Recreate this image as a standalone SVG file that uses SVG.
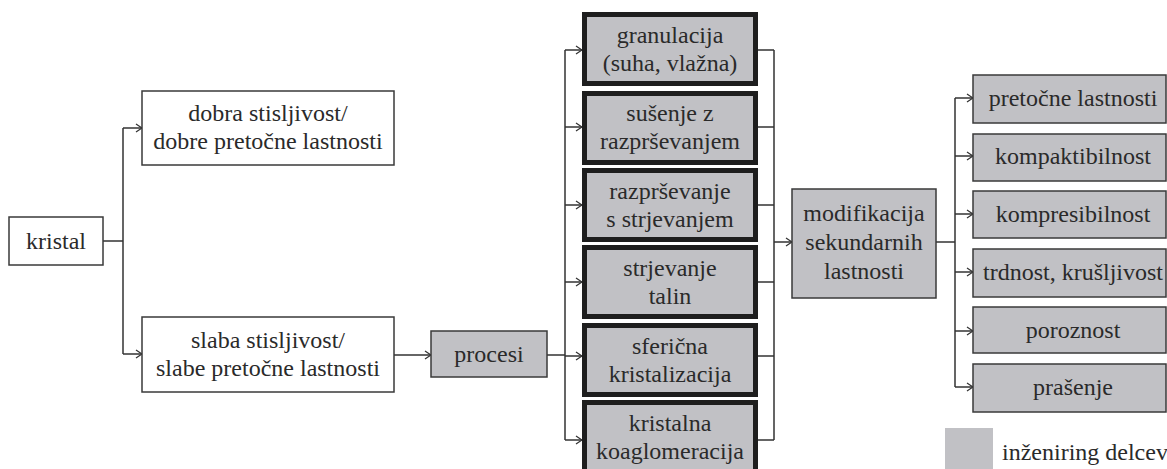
<svg xmlns="http://www.w3.org/2000/svg" width="1167" height="469" viewBox="0 0 1167 469" font-family="'Liberation Serif', 'DejaVu Serif', serif">
<style>
text{font-family:'Liberation Serif','DejaVu Serif',serif;font-size:24px;fill:#2a2a2a;text-anchor:middle}
.w{fill:#ffffff;stroke:#3a3a3a;stroke-width:1.5}
.g{fill:#c1c1c5;stroke:#3a3a3a;stroke-width:1.5}
.t{fill:#c1c1c5;stroke:#1e1e1e;stroke-width:5}
.c{fill:none;stroke:#333333;stroke-width:1.5}
.a{marker-end:url(#arr)}
</style>
<defs>
<marker id="arr" viewBox="0 0 10 10" refX="9" refY="5" markerWidth="10" markerHeight="10" markerUnits="userSpaceOnUse" orient="auto">
<path d="M3,1 L9,5 L3,9" fill="none" stroke="#333333" stroke-width="1.3"/>
</marker>
</defs>
<rect width="1167" height="469" fill="#ffffff"/>
<g id="connectors">
<path class="c" d="M103,241 H123 M123,128 V354 M565,50 V440 M547,355 H565 M758,50 H774 M758,127 H774 M758,205 H774 M758,282 H774 M758,356 H774 M758,440 H774 M774,50 V440 M936,242 H955 M955,98 V387"/>
<path class="c a" d="M123,128 H142"/>
<path class="c a" d="M123,354 H142"/>
<path class="c a" d="M394,355 H431"/>
<path class="c a" d="M565,50 H582"/>
<path class="c a" d="M565,127 H582"/>
<path class="c a" d="M565,205 H582"/>
<path class="c a" d="M565,282 H582"/>
<path class="c a" d="M565,356 H582"/>
<path class="c a" d="M565,440 H582"/>
<path class="c a" d="M774,242 H792"/>
<path class="c a" d="M955,98 H973"/>
<path class="c a" d="M955,156 H973"/>
<path class="c a" d="M955,214 H973"/>
<path class="c a" d="M955,272 H973"/>
<path class="c a" d="M955,331 H973"/>
<path class="c a" d="M955,387 H973"/>
</g>
<g id="kristal"><rect class="w" x="9" y="217" width="94" height="48"/><text x="56" y="249">kristal</text></g>
<g id="dobra"><rect class="w" x="142" y="91" width="252" height="74"/><text x="268" y="121">dobra stisljivost/</text><text x="268" y="149">dobre pretočne lastnosti</text></g>
<g id="slaba"><rect class="w" x="142" y="317" width="252" height="75"/><text x="268" y="348">slaba stisljivost/</text><text x="268" y="376">slabe pretočne lastnosti</text></g>
<g id="procesi"><rect class="g" x="431" y="331" width="116" height="46"/><text x="489" y="362">procesi</text></g>
<g id="granulacija"><rect class="t" x="584.5" y="14.5" width="171" height="69"/><text x="670" y="43">granulacija</text><text x="670" y="71">(suha, vlažna)</text></g>
<g id="susenje"><rect class="t" x="584.5" y="93.5" width="171" height="69"/><text x="670" y="121">sušenje z</text><text x="670" y="149">razprševanjem</text></g>
<g id="razprsevanje"><rect class="t" x="584.5" y="170.5" width="171" height="69"/><text x="670" y="199">razprševanje</text><text x="670" y="227">s strjevanjem</text></g>
<g id="strjevanje"><rect class="t" x="584.5" y="247.5" width="171" height="69"/><text x="670" y="276">strjevanje</text><text x="670" y="304">talin</text></g>
<g id="sfericna"><rect class="t" x="584.5" y="325.5" width="171" height="69"/><text x="670" y="354">sferična</text><text x="670" y="382">kristalizacija</text></g>
<g id="kristalna"><rect class="t" x="584.5" y="402.5" width="171" height="69"/><text x="670" y="431">kristalna</text><text x="670" y="459">koaglomeracija</text></g>
<g id="modifikacija"><rect class="g" x="792" y="189" width="144" height="109"/><text x="864" y="221">modifikacija</text><text x="864" y="250">sekundarnih</text><text x="864" y="279">lastnosti</text></g>
<g id="pretocne"><rect class="g" x="973" y="75" width="193" height="48"/><text x="1073" y="106">pretočne lastnosti</text></g>
<g id="kompaktibilnost"><rect class="g" x="973" y="134" width="193" height="47"/><text x="1073" y="164">kompaktibilnost</text></g>
<g id="kompresibilnost"><rect class="g" x="973" y="191" width="193" height="47"/><text x="1073" y="222">kompresibilnost</text></g>
<g id="trdnost"><rect class="g" x="973" y="249" width="193" height="48"/><text x="1073" y="280">trdnost, krušljivost</text></g>
<g id="poroznost"><rect class="g" x="973" y="307" width="193" height="46"/><text x="1073" y="338">poroznost</text></g>
<g id="prasenje"><rect class="g" x="973" y="364" width="193" height="48"/><text x="1073" y="395">prašenje</text></g>
<g id="legend"><rect x="945" y="428" width="48" height="45" fill="#c1c1c5"/><text x="1002" y="460" style="text-anchor:start">inženiring delcev</text></g>
</svg>
